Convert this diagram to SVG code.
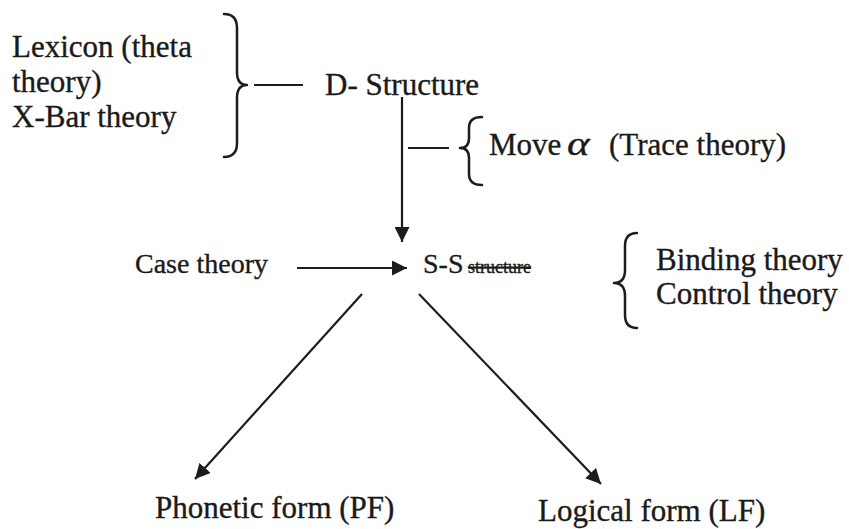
<svg xmlns="http://www.w3.org/2000/svg" width="849" height="529" viewBox="0 0 849 529">
<style>
  text { font-family: "Liberation Serif", "Times New Roman", serif; fill: #1a1a1a; stroke: #1a1a1a; stroke-width: 0.35; }
  .big { font-size: 31px; }
  .mid { font-size: 28px; }
  .brace { fill: none; stroke: #1c1c1c; stroke-width: 2.5; stroke-linecap: round; stroke-linejoin: round; }
  .conn { fill: none; stroke: #1c1c1c; stroke-width: 2.2; }
</style>
<defs>
  <marker id="ah" viewBox="0 0 14 14" refX="14" refY="7" markerWidth="15" markerHeight="15" markerUnits="userSpaceOnUse" orient="auto">
    <path d="M0,0 L14,7 L0,14 z" fill="#1c1c1c"/>
  </marker>
</defs>
<rect width="849" height="529" fill="#ffffff"/>

<g id="lexicon">
  <text class="big" x="12" y="57">Lexicon (theta</text>
  <text class="big" x="12" y="92">theory)</text>
  <text class="big" x="12" y="127">X-Bar theory</text>
  <path class="brace" d="M224,14 Q237,14 237,28 L237,72 Q237,85 247,85 Q237,85 237,98 L237,143 Q237,157 224,157"/>
</g>

<g id="d-structure">
  <text class="big" x="325" y="95">D- Structure</text>
</g>

<g id="move-alpha">
  <path class="brace" d="M482,117 Q469,117 469,128 L469,138 Q469,148 460,148 Q469,148 469,158 L469,174 Q469,185 482,185"/>
  <text class="big" x="489" y="155">Move</text>
  <text x="567" y="155" font-size="33" font-style="italic" transform="translate(567 155) scale(1.3 1) translate(-567 -155)">α</text>
  <text class="big" x="609" y="155">(Trace theory)</text>
</g>

<g id="case-theory">
  <text class="mid" x="135" y="273">Case theory</text>
</g>

<g id="s-structure">
  <text class="mid" x="423" y="273">S-S</text>
  <text x="468" y="273" font-size="18" text-decoration="line-through">structure</text>
</g>

<g id="binding-control">
  <path class="brace" d="M637,233 Q625,233 625,246 L625,270 Q625,283 614,283 Q625,283 625,296 L625,315 Q625,328 637,328"/>
  <text class="big" x="656" y="270">Binding theory</text>
  <text class="big" x="656" y="304">Control theory</text>
</g>

<g id="pf">
  <text class="big" x="155" y="518">Phonetic form (PF)</text>
</g>

<g id="lf">
  <text class="big" x="538" y="521">Logical form (LF)</text>
</g>

<g id="connectors">
  <line class="conn" x1="254" y1="85" x2="303" y2="85"/>
  <line class="conn" x1="408" y1="148" x2="449" y2="148"/>
  <line class="conn" x1="402" y1="97" x2="402" y2="242" marker-end="url(#ah)"/>
  <line class="conn" x1="297" y1="268" x2="407" y2="268" marker-end="url(#ah)"/>
  <line class="conn" x1="362" y1="294" x2="195" y2="479" marker-end="url(#ah)"/>
  <line class="conn" x1="419" y1="294" x2="601" y2="484" marker-end="url(#ah)"/>
</g>
</svg>
